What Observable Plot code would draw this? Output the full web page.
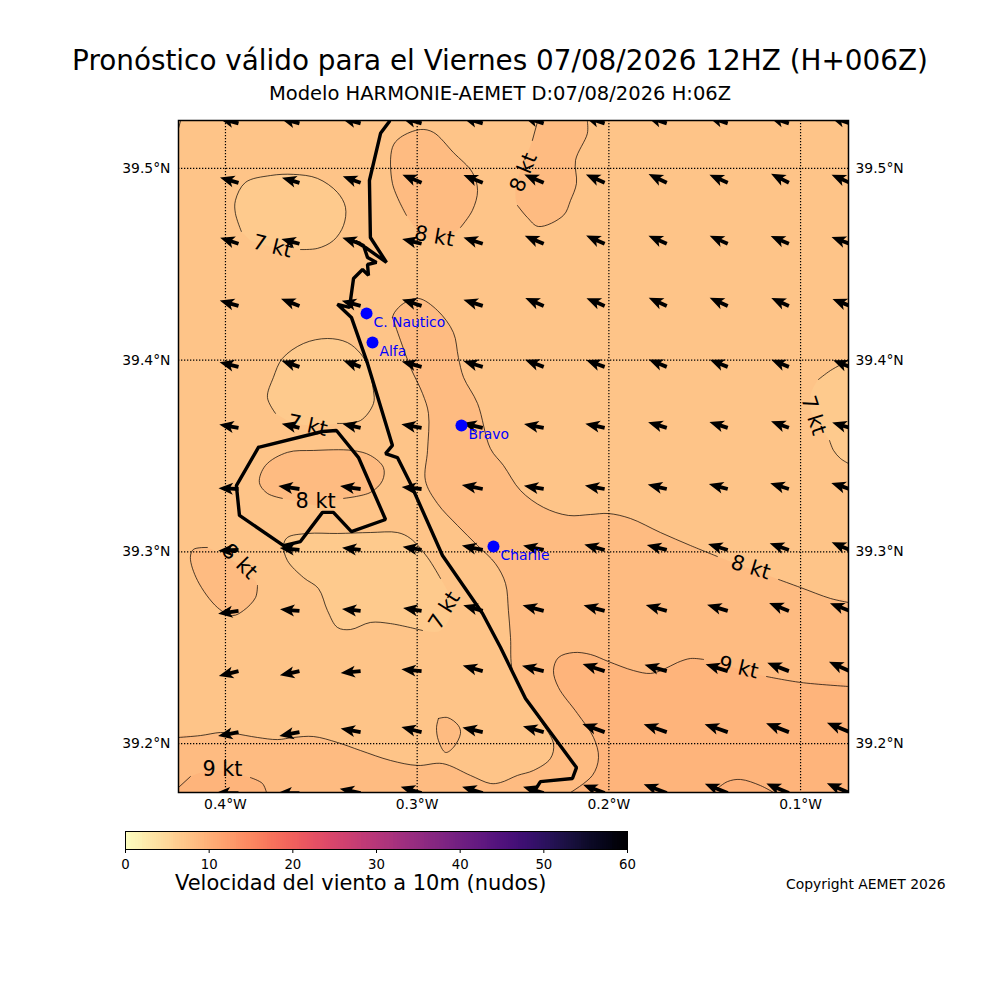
<!DOCTYPE html>
<html><head><meta charset="utf-8">
<script src="https://cdn.jsdelivr.net/npm/d3@7"></script>
<script src="https://cdn.jsdelivr.net/npm/@observablehq/plot@0.6"></script>
<style>
html,body{margin:0;padding:0;background:#fff;overflow:hidden}
#page{position:relative;width:1000px;height:1000px;font-family:"DejaVu Sans";color:#000}
#head{position:relative;height:105px}
.t{position:absolute;white-space:nowrap;line-height:1}
svg{display:block}
</style></head><body>
<div id="page">
<div id="head">
<div class="t" style="left:0;width:1000px;text-align:center;top:47px;font-size:27.85px">Pronóstico válido para el Viernes 07/08/2026 12HZ (H+006Z)</div>
<div class="t" style="left:0;width:1000px;text-align:center;top:84px;font-size:19.5px">Modelo HARMONIE-AEMET D:07/08/2026 H:06Z</div>
</div>
<div id="map"></div>
<div id="bar"></div>
<div class="t" style="left:175px;top:873px;font-size:20.95px">Velocidad del viento a 10m (nudos)</div>
<div class="t" style="left:786px;top:878px;font-size:13.9px">Copyright AEMET 2026</div>
</div>
<script>
const lonDomain=[-0.4245,-0.0750], latDomain=[39.1745,39.5250];
const lonTicks=[-0.4,-0.3,-0.2,-0.1], latTicks=[39.2,39.3,39.4,39.5];
const barTicks=[0,10,20,30,40,50,60];

const coast=[[-.3145,39.5245],[-.3191,39.5183],[-.3249,39.4937],[-.3244,39.4640],[-.3160,39.4510],[-.3270,39.4588],[-.3322,39.4619],[-.3280,39.4598],[-.3259,39.4536],[-.3212,39.4510],[-.3259,39.4499],[-.3254,39.4442],[-.3285,39.4473],[-.3332,39.4426],[-.3353,39.4275],[-.3416,39.4291],[-.3343,39.4223],[-.3259,39.3983],[-.3129,39.3555],[-.3165,39.3513],[-.3103,39.3492],[-.3035,39.3357],[-.2868,39.2981],[-.2659,39.2679],[-.2565,39.2501],[-.2435,39.2235],[-.2169,39.1875],[-.2190,39.1818],[-.2357,39.1802],[-.2393,39.1745]];
const lagoon=[[-.3828,39.3545],[-.3494,39.3628],[-.3421,39.3633],[-.3306,39.3492],[-.3165,39.3169],[-.3343,39.3106],[-.3437,39.3206],[-.3494,39.3206],[-.3609,39.3054],[-.3697,39.3033],[-.3927,39.3190],[-.3943,39.3346],[-.3828,39.3545]];

// contour traces (level lines) and the closures hidden behind their labels
const arc7a=[[-.3917,39.4671],[-.3948,39.4765],[-.3948,39.4833],[-.3896,39.4927],[-.3765,39.4963],[-.3645,39.4969],[-.3520,39.4948],[-.3416,39.4875],[-.3374,39.4797],[-.3384,39.4703],[-.3437,39.4624],[-.3520,39.4583],[-.3609,39.4577]];
const gap7a=[[-.3791,39.4598],[-.3870,39.4624]];
const arc7b=[[-.3739,39.3722],[-.3781,39.3805],[-.3750,39.3910],[-.3703,39.4009],[-.3593,39.4087],[-.3468,39.4113],[-.3364,39.4092],[-.3296,39.4035],[-.3259,39.3972],[-.3228,39.3842],[-.3228,39.3774],[-.3296,39.3685],[-.3416,39.3670]];
const gap7b=[[-.3557,39.3659],[-.3661,39.3675]];
const arc7c=[[-.2878,39.2861],[-.2946,39.2971],[-.3035,39.3070],[-.3103,39.3101],[-.3244,39.3101],[-.3416,39.3096],[-.3572,39.3096],[-.3677,39.3075],[-.3697,39.3033],[-.3677,39.2955],[-.3593,39.2866],[-.3515,39.2809],[-.3468,39.2694],[-.3416,39.2606],[-.3348,39.2595],[-.3244,39.2632],[-.3139,39.2626],[-.2972,39.2590]];
const gap7c=[[-.2878,39.2590],[-.2816,39.2705],[-.2842,39.2799]];
const arc7d=[[-.0750,39.3998],[-.0844,39.3946],[-.0907,39.3899]];
const gap7d=[[-.0948,39.3816],[-.0938,39.3712]];
const arc7e=[[-.0849,39.3581],[-.0828,39.3529],[-.0792,39.3487],[-.0750,39.3461]];
const arc7f=[[-.4245,39.5209],[-.4235,39.5245]];

const arc8a=[[-.3056,39.4755],[-.3129,39.4922],[-.3129,39.5110],[-.3087,39.5162],[-.2983,39.5203],[-.2915,39.5188],[-.2811,39.5083],[-.2712,39.4979],[-.2685,39.4885],[-.2712,39.4781],[-.2774,39.4692]];
const gap8a=[[-.2878,39.4624],[-.2983,39.4650]];
const arc8b=[[-.2372,39.5245],[-.2399,39.5146]];
const gap8b=[[-.2451,39.5016],[-.2487,39.4885]];
const arc8c=[[-.2477,39.4807],[-.2425,39.4744],[-.2367,39.4697],[-.2237,39.4755],[-.2200,39.4833],[-.2169,39.4922],[-.2174,39.5042],[-.2112,39.5183],[-.2112,39.5245]];
const arc8d=[[-.3129,39.4223],[-.3118,39.4249],[-.3071,39.4296],[-.2993,39.4322],[-.2894,39.4259],[-.2811,39.4144],[-.2785,39.4014],[-.2758,39.3910],[-.2685,39.3774],[-.2618,39.3539],[-.2550,39.3451],[-.2461,39.3320],[-.2341,39.3232],[-.2211,39.3190],[-.2096,39.3195],[-.2002,39.3200],[-.1887,39.3174],[-.1731,39.3101],[-.1574,39.3033],[-.1434,39.2976]];
const arc8e=[[-.1115,39.2856],[-.1000,39.2814],[-.0844,39.2757],[-.0750,39.2736]];
const arc8f=[[-.3129,39.4223],[-.3087,39.4103],[-.3035,39.3962],[-.2972,39.3826],[-.2941,39.3722],[-.2946,39.3529],[-.2957,39.3372],[-.2894,39.3252],[-.2790,39.3138],[-.2685,39.3033],[-.2592,39.2939],[-.2539,39.2835],[-.2524,39.2694],[-.2513,39.2553],[-.2503,39.2381],[-.2435,39.2240],[-.2357,39.2120],[-.2289,39.2000],[-.2305,39.1922],[-.2393,39.1860],[-.2477,39.1834],[-.2565,39.1797],[-.2618,39.1792],[-.2722,39.1834],[-.2868,39.1896],[-.2998,39.1886],[-.3139,39.1912],[-.3296,39.1964],[-.3416,39.2006],[-.3541,39.2037],[-.3645,39.2032],[-.3729,39.2021],[-.3833,39.2032],[-.3958,39.2053],[-.4026,39.2058],[-.4130,39.2042],[-.4245,39.2032]];
const corners8=[[-.0750,39.1745],[-.4245,39.1745]];
const arc8g=[[-.2889,39.2131],[-.2842,39.2136],[-.2785,39.2094],[-.2774,39.2053],[-.2811,39.1980],[-.2852,39.1954],[-.2889,39.2016],[-.2899,39.2084],[-.2889,39.2131]];
const arc8h=[[-.3703,39.3279],[-.3781,39.3305],[-.3823,39.3362],[-.3791,39.3451],[-.3677,39.3519],[-.3541,39.3529],[-.3338,39.3529],[-.3244,39.3503],[-.3176,39.3440],[-.3181,39.3372],[-.3244,39.3310],[-.3384,39.3279]];
const gap8h=[[-.3530,39.3242]];
const arc8i=[[-.4094,39.3023],[-.4167,39.3013],[-.4183,39.2971],[-.4146,39.2851],[-.4042,39.2710],[-.3963,39.2668],[-.3906,39.2694],[-.3843,39.2762],[-.3833,39.2825]];
const gap8i=[[-.3896,39.2903],[-.4000,39.2981]];

const arc9a=[[-.2200,39.1745],[-.2086,39.1834],[-.2054,39.1927],[-.2080,39.2032],[-.2164,39.2157],[-.2263,39.2293],[-.2289,39.2381],[-.2263,39.2449],[-.2185,39.2475],[-.2096,39.2465],[-.2002,39.2428],[-.1872,39.2381],[-.1783,39.2366],[-.1715,39.2387],[-.1642,39.2423],[-.1574,39.2444],[-.1506,39.2439]];
const arc9b=[[-.1178,39.2350],[-.1000,39.2319],[-.0750,39.2298]];
const corner9=[[-.0750,39.1745]];
const arc9c=[[-.4245,39.1771],[-.4183,39.1828]];
const gap9c=[[-.4052,39.1860]];
const arc9d=[[-.3870,39.1823],[-.3807,39.1792],[-.3786,39.1745]];
const corner9c=[[-.4245,39.1745]];
const arc10=[[-.1434,39.1766],[-.1381,39.1802],[-.1313,39.1813],[-.1209,39.1781],[-.1141,39.1745]];

const contourLines=[arc7a,arc7b,arc7c,arc7d,arc7e,arc7f,arc8a,arc8b,arc8c,arc8d,arc8e,arc8f,arc8g,arc8h,arc8i,arc9a,arc9b,arc9c,arc9d,arc10];
const baseValue=7.5;
const bands=[
 {v:8.5,ring:[...arc8d,...arc8e,...corners8,...[...arc8f].reverse()]},
 {v:8.5,ring:[...arc8a,...gap8a]},
 {v:8.5,ring:[...arc8b,...gap8b,...arc8c]},
 {v:8.5,ring:[...arc8h,...gap8h]},
 {v:8.5,ring:[...arc8i,...gap8i]},
 {v:6.7,ring:[...arc7a,...gap7a]},
 {v:6.7,ring:[...arc7b,...gap7b]},
 {v:6.7,ring:[...arc7c,...gap7c]},
 {v:6.7,ring:[...arc7d,...gap7d,...arc7e]},
 {v:9.5,ring:[...arc9a,...arc9b,...corner9]},
 {v:9.5,ring:[...arc9c,...gap9c,...arc9d,...corner9c]},
 {v:9.9,ring:arc10},
 {v:8.5,ring:arc8g}
];

const levelLabels=[["7 kt",-.3755,39.4593,14],["7 kt",-.3572,39.3659,12],["8 kt",-.2910,39.4645,10],["8 kt",-.2445,39.4979,-68],["8 kt",-.3530,39.3263,0],["8 kt",-.3927,39.2950,45],["7 kt",-.2858,39.2694,-58],["7 kt",-.0933,39.3712,72],["8 kt",-.1261,39.2919,17],["9 kt",-.1324,39.2397,13],["9 kt",-.4016,39.1865,0]];
const stations=[["C. Nautico",-.3264,39.4244],["Alfa",-.3233,39.4092],["Bravo",-.2769,39.3659],["Charlie",-.2602,39.3028]];

const windLons=[-.3932,-.3614,-.3295,-.2977,-.2658,-.2340,-.2022,-.1698,-.1380,-.1061,-.0743];
const windLats=[39.5235,39.4925,39.4607,39.4283,39.3965,39.3647,39.3328,39.3010,39.2692,39.2378,39.2060,39.1742];
const windDir=[
[285,285,285,286,286,288,288,288,288,288,288],
[286,286,290,293,292,293,294,296,294,297,294],
[288,285,288,284,288,293,294,294,294,293,290],
[286,291,285,288,288,293,293,294,294,294,292],
[284,289,290,285,287,291,290,292,292,292,292],
[280,283,283,280,283,281,282,287,288,290,287],
[272,278,278,276,281,279,280,283,285,287,288],
[268,276,277,280,282,282,285,284,287,289,293],
[262,275,276,279,286,285,285,286,287,292,291],
[256,258,265,275,286,284,288,286,287,291,294],
[259,259,280,284,283,286,290,289,289,291,292],
[270,270,282,287,287,287,291,291,292,293,293]];
const windKt=[
[7.6,7.5,7.6,8,8,8.1,8,7.9,7.8,7.8,7.8],
[7.4,7,7.3,8,8,8.1,7.9,7.8,7.7,7.7,7.7],
[7.4,7.2,7.4,7.7,7.8,7.9,7.8,7.7,7.6,7.6,7.5],
[7.5,7.6,7.5,7.9,7.8,7.7,7.6,7.6,7.6,7.4,7.2],
[7.5,7.3,7.1,7.9,7.8,7.7,7.6,7.5,7.4,7.3,6.9],
[7.5,7,7.2,7.9,8.1,7.7,7.6,7.5,7.4,7.3,7.1],
[7.7,8.2,8,7.7,8.2,7.7,7.7,7.5,7.5,7.5,7.5],
[7.8,7.6,7.2,7.4,8.2,8.1,8.1,7.9,7.9,7.8,7.6],
[7.9,7.5,7.2,7.2,7.8,8.4,8.4,8.4,8.3,8.2,8.2],
[7.8,7.7,7.7,7.8,8,8.6,8.9,8.9,8.9,8.9,8.8],
[8,7.9,7.8,8,8,8.3,9.1,9.4,9.4,9.4,9.5],
[8.8,8.5,8.2,8.4,8.3,8.3,8.9,9.5,9.5,9.4,9.6]];
const wind=windLats.flatMap((la,i)=>windLons.map((lo,j)=>({lo,la,dir:windDir[i][j],kt:windKt[i][j]})));

const colorScale={type:"linear",scheme:"magma",reverse:true,domain:[0,60]};
const quiver={draw(c,l){
  const s=1.9,w=6,h=14.5,a=12;
  c.moveTo(-s,0);c.lineTo(-s,-(l-a));c.lineTo(-w,-(l-h));c.lineTo(0,-l);c.lineTo(w,-(l-h));c.lineTo(s,-(l-a));c.lineTo(s,0);c.closePath();
}};

const map=Plot.plot({
  width:1000,height:717,marginLeft:178,marginRight:152,marginTop:15,marginBottom:30,
  style:{fontFamily:"DejaVu Sans",fontSize:"13.9px",color:"#000",background:"transparent"},
  x:{domain:lonDomain,label:null},y:{domain:latDomain,label:null},color:colorScale,
  length:{type:"linear",domain:[0,10],range:[0,26]},
  marks:[
    Plot.rect([baseValue],{x1:()=>lonDomain[0],x2:()=>lonDomain[1],y1:()=>latDomain[0],y2:()=>latDomain[1],fill:d=>d}),
    ...bands.map(b=>Plot.line(b.ring,{x:d=>d[0],y:d=>d[1],fill:()=>b.v,stroke:"none",curve:"catmull-rom",clip:true})),
    ...contourLines.map(a=>Plot.line(a,{x:d=>d[0],y:d=>d[1],stroke:"#000",strokeWidth:.7,curve:"catmull-rom",clip:true})),
    Plot.ruleX(lonTicks,{stroke:"#000",strokeWidth:1.2,strokeDasharray:"1.3,1.7"}),
    Plot.ruleY(latTicks,{stroke:"#000",strokeWidth:1.2,strokeDasharray:"1.3,1.7"}),
    Plot.vector(wind,{x:"lo",y:"la",rotate:"dir",length:"kt",anchor:"start",shape:quiver,fill:"#000",stroke:"none",clip:true}),
    Plot.line(coast,{x:d=>d[0],y:d=>d[1],stroke:"#000",strokeWidth:3.4,strokeLinejoin:"miter",clip:true}),
    Plot.line(lagoon,{x:d=>d[0],y:d=>d[1],stroke:"#000",strokeWidth:3.4,strokeLinejoin:"miter",clip:true}),
    Plot.text(levelLabels,{x:d=>d[1],y:d=>d[2],text:d=>d[0],rotate:d=>d[3],fontSize:20.8,fill:"#000"}),
    Plot.dot(stations,{x:d=>d[1],y:d=>d[2],r:6,fill:"#0000ff",stroke:"none"}),
    Plot.text(stations,{x:d=>d[1],y:d=>d[2],text:d=>d[0],dx:7,dy:9,textAnchor:"start",fill:"#0000ff",fontSize:13.9}),
    Plot.frame({stroke:"#000",strokeWidth:1.5}),
    Plot.axisX({ticks:lonTicks,anchor:"bottom",tickSize:0,tickPadding:7,tickFormat:d=>`${Math.abs(d).toFixed(1)}°W`,label:null}),
    Plot.axisY({ticks:latTicks,anchor:"left",tickSize:0,tickPadding:8,tickFormat:d=>`${d.toFixed(1)}°N`,label:null}),
    Plot.axisY({ticks:latTicks,anchor:"right",tickSize:0,tickPadding:7,tickFormat:d=>`${d.toFixed(1)}°N`,label:null})
  ]
});
document.getElementById("map").append(map);

const barSteps=d3.range(0,60,0.25);
const bar=Plot.plot({
  width:1000,height:55,marginLeft:125,marginRight:373,marginTop:9,marginBottom:28,
  style:{fontFamily:"DejaVu Sans",fontSize:"13.3px",color:"#000",background:"transparent"},
  x:{domain:[0,60],label:null},y:{domain:[0,1],axis:null},color:colorScale,
  marks:[
    Plot.rect(barSteps,{x1:d=>d,x2:d=>Math.min(d+0.5,60),y1:()=>0,y2:()=>1,fill:d=>d+0.125,shapeRendering:"crispEdges"}),
    Plot.frame({stroke:"#000",strokeWidth:1}),
    Plot.axisX({ticks:barTicks,anchor:"bottom",tickSize:4,tickPadding:6,tickFormat:d=>String(d),label:null})
  ]
});
document.getElementById("bar").append(bar);
</script>
</body></html>
